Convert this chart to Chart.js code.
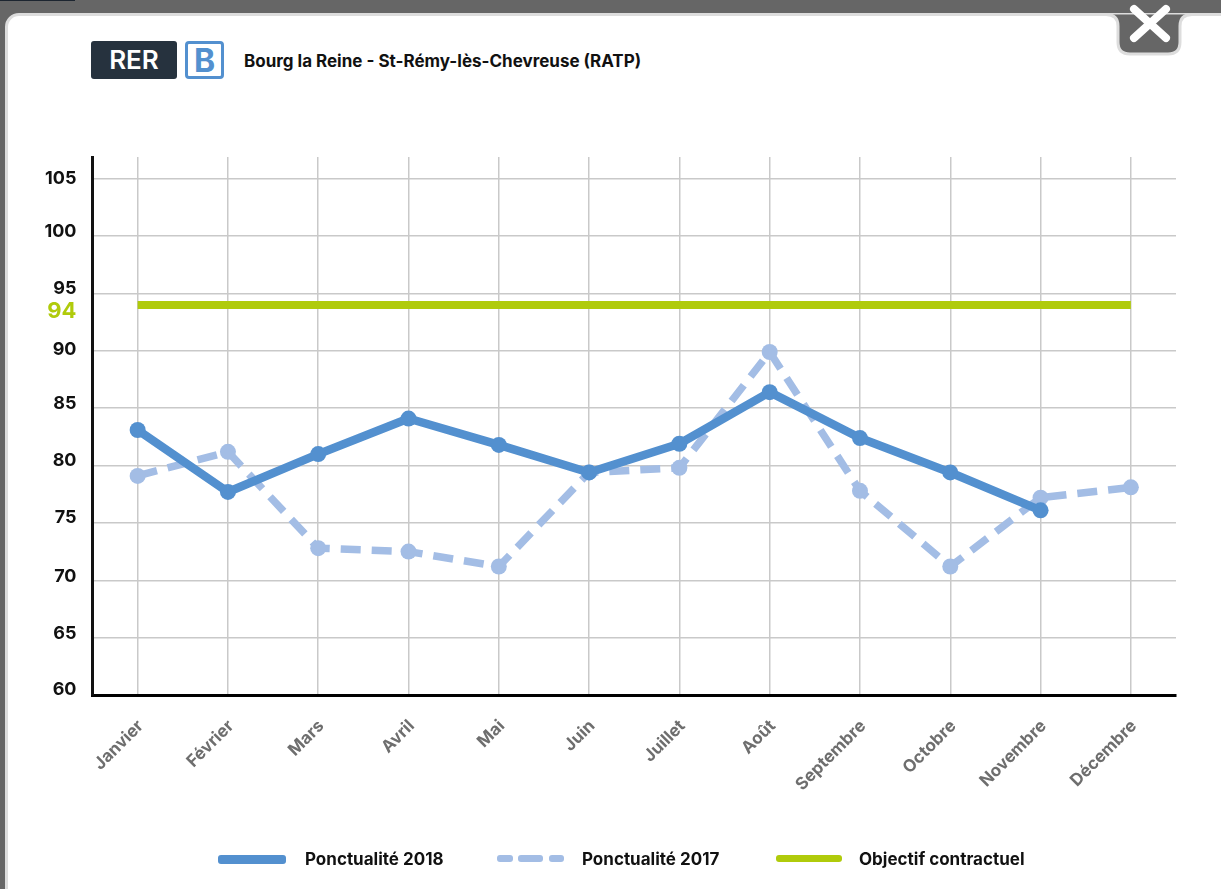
<!DOCTYPE html>
<html lang="fr">
<head>
<meta charset="utf-8">
<title>Bourg la Reine - St-Rémy-lès-Chevreuse (RATP)</title>
<script src="https://cdn.jsdelivr.net/npm/chart.js@4/dist/chart.umd.min.js"></script>
<style>
  html, body { margin: 0; padding: 0; width: 1221px; height: 889px; overflow: hidden; background: #666; font-family: Inter, sans-serif; }
  .topbit { position: absolute; left: 0; top: 0; width: 75px; height: 1px; background: #1c2530; }
  .card { position: absolute; left: 5px; top: 13px; width: 1240px; height: 900px; background: #fff; border: 3px solid #ddd; border-radius: 14px; box-sizing: border-box; }
  .closeTab { position: absolute; left: 1100px; top: 0; }
  #chart { position: absolute; left: 0; top: 0; }
  .rer { position: absolute; left: 91px; top: 41px; width: 86px; height: 38px; line-height: 38px; background: #26323e; color: #fff; border-radius: 3px; text-align: center; font-size: 26px; font-weight: 600; }
  .ligne { position: absolute; left: 185px; top: 41px; width: 39px; height: 38px; line-height: 33px; box-sizing: border-box; border: 3px solid #5390cf; border-radius: 4px; color: #5390cf; text-align: center; font-size: 32px; font-weight: 700; }
  .titre { position: absolute; left: 244px; top: 51px; font-size: 17px; line-height: 20px; font-weight: 700; color: #111; white-space: nowrap; }
  .legende { position: absolute; top: 848px; height: 22px; line-height: 22px; font-size: 17px; font-weight: 700; color: #111; white-space: nowrap; }
  .trait { position: absolute; top: 7px; border-radius: 3px; }
</style>
</head>
<body>
  <div class="topbit"></div>
  <div class="card"></div>
  <svg class="closeTab" width="100" height="60">
    <path d="M0 14.5 H6 Q18 14.5 18 26 V42 Q18 54 30 54 H68 Q80 54 80 42 V26 Q80 14.5 92 14.5 H100" fill="#666" stroke="#ddd" stroke-width="3"/>
    <path d="M0 0 H100 V13 H0 Z" fill="#666"/>
    <path d="M34 9 L66 38 M66 9 L34 38" stroke="#fff" stroke-width="8" stroke-linecap="round"/>
  </svg>
  <div class="rer">RER</div>
  <div class="ligne">B</div>
  <div class="titre">Bourg la Reine - St-Rémy-lès-Chevreuse (RATP)</div>
  <canvas id="chart" width="1221" height="889"></canvas>

  <div class="legende" style="left:218px;width:300px">
    <span class="trait" style="left:0;width:68px;height:9px;background:#5390cf"></span>
    <span style="margin-left:87px">Ponctualité 2018</span>
  </div>
  <div class="legende" style="left:497px;width:300px">
    <span class="trait" style="left:0;width:16px;height:7px;background:#a3bde5"></span>
    <span class="trait" style="left:21px;width:25px;height:7px;background:#a3bde5"></span>
    <span class="trait" style="left:52px;width:15px;height:7px;background:#a3bde5"></span>
    <span style="margin-left:85px">Ponctualité 2017</span>
  </div>
  <div class="legende" style="left:776px;width:300px">
    <span class="trait" style="left:0;width:66px;height:7px;background:#b0cb0b"></span>
    <span style="margin-left:83px">Objectif contractuel</span>
  </div>

<script>
const mois = ["Janvier", "Février", "Mars", "Avril", "Mai", "Juin", "Juillet", "Août", "Septembre", "Octobre", "Novembre", "Décembre"];
const ponctualite2018 = [83.1, 77.7, 81.0, 84.1, 81.8, 79.4, 81.9, 86.4, 82.4, 79.4, 76.1, null];
const ponctualite2017 = [79.1, 81.2, 72.8, 72.5, 71.2, 79.4, 79.8, 89.9, 77.8, 71.2, 77.2, 78.1];
const objectif = [94, 94, 94, 94, 94, 94, 94, 94, 94, 94, 94, 94];
const yTicks = [60, 65, 70, 75, 80, 85, 90, 94, 95, 100, 105];

const BLEU = "#5390cf";
const BLEU_CLAIR = "#a3bde5";
const VERT = "#b0cb0b";

// les étiquettes de l'axe Y ne sont pas centrées sur leur ligne dans l'original
const decalageY = { 105: 0, 100: -5, 95: -5, 94: 6, 90: -1, 85: -5, 80: -5, 75: -5, 70: -4, 65: -4, 60: -5 };

const decalerTicks = {
  id: "decalerTicks",
  afterUpdate(chart) {
    const axe = chart.scales.y;
    axe.getLabelItems().forEach((item) => {
      item.options.translation[1] += decalageY[item.label] || 0;
    });
  }
};

new Chart(document.getElementById("chart"), {
  type: "line",
  data: {
    labels: mois,
    datasets: [
      { label: "Ponctualité 2018", data: ponctualite2018, order: 0, borderColor: BLEU, backgroundColor: BLEU, borderWidth: 8.5, pointBorderWidth: 0, pointRadius: 8 },
      { label: "Ponctualité 2017", data: ponctualite2017, order: 1, borderColor: BLEU_CLAIR, backgroundColor: BLEU_CLAIR, borderWidth: 7.5, borderDash: [20, 11], pointBorderWidth: 0, pointRadius: 8 },
      { label: "Objectif contractuel", data: objectif, order: 2, borderColor: VERT, backgroundColor: VERT, borderWidth: 8, pointRadius: 0 }
    ]
  },
  options: {
    responsive: false,
    animation: false,
    layout: { padding: { top: 157, right: 45, left: 0, bottom: 0 } },
    elements: { line: { tension: 0, borderCapStyle: "butt", borderJoinStyle: "round" } },
    plugins: { legend: { display: false }, tooltip: { enabled: false } },
    scales: {
      x: {
        offset: true,
        afterFit: (axe) => { axe.height = 194; axe.paddingLeft = 0; axe.paddingRight = 0; },
        border: { color: "#000", width: 3 },
        grid: { color: "#c9c9c9", lineWidth: 1.5, drawTicks: false },
        ticks: { color: "#6e6e6e", font: { family: "Inter", size: 17, weight: "700" }, minRotation: 45, maxRotation: 45, padding: 21, labelOffset: 3, autoSkip: false }
      },
      y: {
        min: 60,
        max: 106.9,
        afterBuildTicks: (axe) => { axe.ticks = yTicks.map((value) => ({ value })); },
        afterFit: (axe) => { axe.width = 92.5; axe.paddingTop = 0; axe.paddingBottom = 0; },
        border: { color: "#111", width: 3 },
        grid: {
          drawTicks: false,
          lineWidth: 1.5,
          color: (ctx) => (ctx.tick && ctx.tick.value === 94 ? "rgba(0,0,0,0)" : "#c9c9c9")
        },
        ticks: {
          autoSkip: false,
          padding: 16,
          color: (ctx) => (ctx.tick.value === 94 ? VERT : "#111"),
          font: (ctx) => ({ family: "Inter", size: ctx.tick && ctx.tick.value === 94 ? 22 : 18, weight: "700" })
        }
      }
    }
  },
  plugins: [decalerTicks]
});
</script>
</body>
</html>
